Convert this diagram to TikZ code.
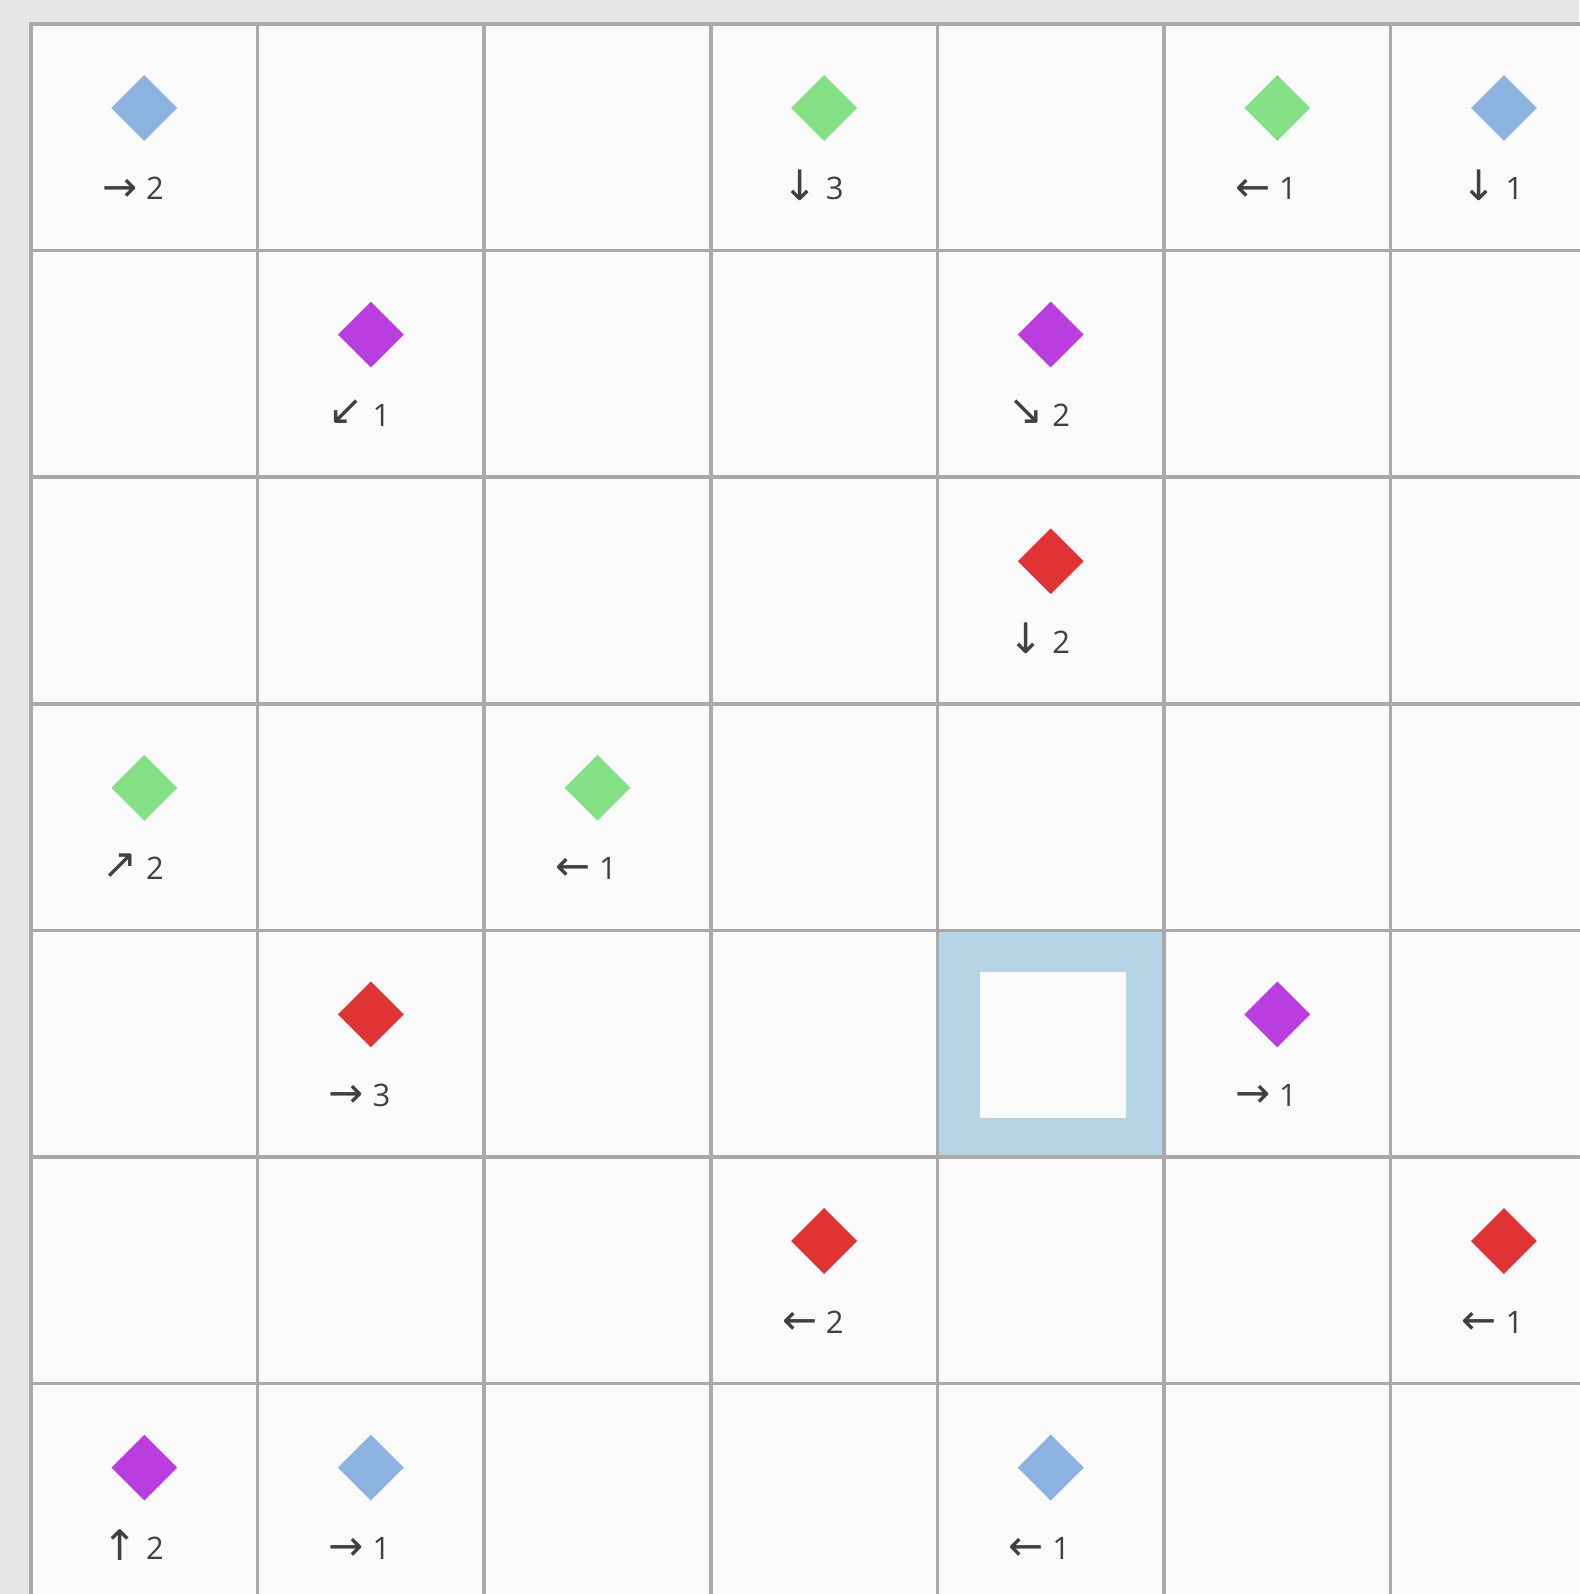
\documentclass[tikz,border=0pt]{standalone}
\usepackage{fontspec}
\setmainfont{Open Sans}
\newfontfamily\arrowfont{DejaVu Sans}
\usetikzlibrary{shapes.geometric}
\definecolor{bgc}{HTML}{E6E6E6}
\definecolor{cellc}{HTML}{FAFAFA}
\definecolor{gridc}{HTML}{A9A9A9}
\definecolor{hlc}{HTML}{B5D4E6}
\definecolor{txtc}{HTML}{404040}
\definecolor{gblue}{HTML}{8CB2E0}
\definecolor{ggreen}{HTML}{84E084}
\definecolor{gpurple}{HTML}{BA3DE0}
\definecolor{gred}{HTML}{E03333}
\tikzset{
  gridline/.style={draw=gridc, line width=3.5pt},
  gem/.style={diamond, inner sep=0pt, minimum width=66pt, minimum height=66pt, draw=none},
  arrowlbl/.style={inner sep=0pt, text=txtc, font=\arrowfont\fontsize{42}{42}\selectfont},
  digitlbl/.style={inner sep=0pt, anchor=base west, text=txtc, font=\fontsize{31}{31}\selectfont},
}
% #1 name, #2 row, #3 col, #4 colour, #5 arrow, #6 digit, #7 arrow vertical offset
\newcommand\piece[7]{%
  \pgfmathsetmacro\pcx{31+226.6*#3+113.3}%
  \pgfmathsetmacro\pty{24+226.6*#2}%
  \node[gem, fill=#4] (#1) at ({\pcx},{\pty+84}) {};
  \node[arrowlbl] (#1a) at ({\pcx-24.5},{\pty+161+#7}) {#5};
  \node[digitlbl] (#1d) at ({\pcx+1.5},{\pty+176}) {#6};
}
\begin{document}
\begin{tikzpicture}[x=1pt,y=-1pt]
\fill[bgc] (0,0) rectangle (1579,1594);
\useasboundingbox (0,0) rectangle (1579,1594);
\fill[cellc] (31,24) rectangle (1579,1594);
% highlighted cell
\fill[hlc] (937.4,930.4) rectangle (1164,1157);
\node[fill=cellc, minimum width=146pt, minimum height=146pt, inner sep=0pt] (hl) at (1053,1045) {};
% grid
\foreach \i in {0,...,6} {
  \draw[gridline] ({31+226.6*\i},24) -- ({31+226.6*\i},1600);
  \draw[gridline] (29,{24+226.6*\i}) -- (1600,{24+226.6*\i});
}
% pieces
\piece{p00}{0}{0}{gblue}{→}{2}{5}
\piece{p03}{0}{3}{ggreen}{↓}{3}{0}
\piece{p05}{0}{5}{ggreen}{←}{1}{5}
\piece{p06}{0}{6}{gblue}{↓}{1}{0}
\piece{p11}{1}{1}{gpurple}{↙}{1}{1}
\piece{p14}{1}{4}{gpurple}{↘}{2}{1}
\piece{p24}{2}{4}{gred}{↓}{2}{0}
\piece{p30}{3}{0}{ggreen}{↗}{2}{1}
\piece{p32}{3}{2}{ggreen}{←}{1}{5}
\piece{p41}{4}{1}{gred}{→}{3}{5}
\piece{p45}{4}{5}{gpurple}{→}{1}{5}
\piece{p53}{5}{3}{gred}{←}{2}{5}
\piece{p56}{5}{6}{gred}{←}{1}{5}
\piece{p60}{6}{0}{gpurple}{↑}{2}{0}
\piece{p61}{6}{1}{gblue}{→}{1}{5}
\piece{p64}{6}{4}{gblue}{←}{1}{5}
\end{tikzpicture}
\end{document}
